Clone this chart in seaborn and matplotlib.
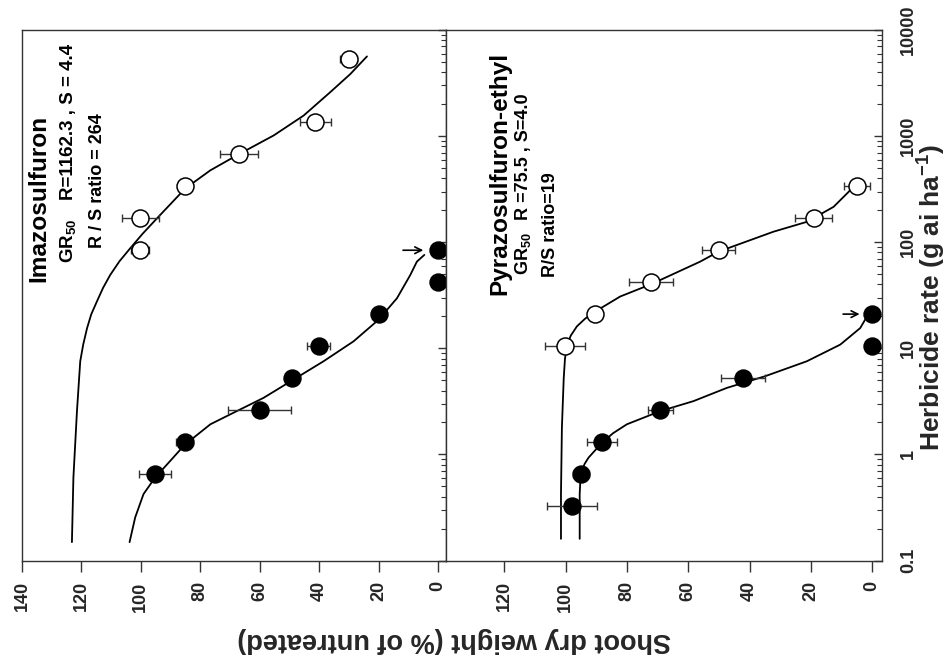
import numpy as np
import pandas as pd
import matplotlib
matplotlib.use("Agg")
import matplotlib.pyplot as plt
from matplotlib.ticker import FixedLocator, FixedFormatter, LogLocator, NullFormatter
import seaborn as sns

# ---------------- data ----------------
rate_ticks = [0.1, 1, 10, 100, 1000, 10000]
rate_labels = ["0.1", "1", "10", "100", "1000", "10000"]
left_weight_ticks = [0, 20, 40, 60, 80, 100, 120, 140]
right_weight_ticks = [0, 20, 40, 60, 80, 100, 120]

# Imazosulfuron - susceptible (filled)
imaz_S_rate = [0.656, 1.3125, 2.625, 5.25, 10.5, 21, 42, 84]
imaz_S_resp = [95.2, 85.3, 60.0, 49.1, 40.2, 20.0, 0.0, 0.0]
imaz_S_err = [5.3, 3.0, 10.7, 0, 4.0, 0, 0, 0]
# Imazosulfuron - resistant (open)
imaz_R_rate = [84, 168, 336, 672, 1344, 5376]
imaz_R_resp = [100.2, 100.2, 85.1, 67.1, 41.3, 30.1]
imaz_R_err = [3.0, 6.3, 0, 6.4, 5.2, 2.8]

# Pyrazosulfuron-ethyl - susceptible (filled)
pyr_S_rate = [0.328, 0.656, 1.3125, 2.625, 5.25, 10.5, 21]
pyr_S_resp = [97.9, 95.0, 88.1, 69.1, 42.2, 0.0, 0.0]
pyr_S_err = [8.0, 2.7, 5.0, 4.1, 7.1, 0, 0]
# Pyrazosulfuron-ethyl - resistant (open)
pyr_R_rate = [10.5, 21, 42, 84, 168, 336]
pyr_R_resp = [100.1, 90.3, 72.1, 50.1, 19.1, 5.0]
pyr_R_err = [6.5, 0, 7.1, 5.4, 6.1, 4.3]

# fitted curves, points
imaz_R_curve_rate = [0.149, 0.605, 2.56, 7.55, 10.84, 15.5, 20.9, 27.6, 37.2, 49.2, 66.1,
                     87.5, 120.2, 167.5, 320, 476, 673, 1014, 1563, 2588, 3846, 5636]
imaz_R_curve_resp = [123.2, 122.7, 121.5, 120.4, 119.4, 118.1, 116.7, 114.8, 112.7, 110.3,
                     107.2, 103.6, 99.4, 94.6, 85.1, 76.6, 67.1, 55.3, 45.2, 36.3, 29.5, 23.9]
imaz_S_curve_rate = [0.149, 0.255, 0.423, 0.605, 0.869, 1.227, 1.923, 2.559, 3.412, 4.977,
                     7.551, 11.64, 18.58, 29.65, 49.2, 65.6, 75.9]
imaz_S_curve_resp = [103.8, 101.9, 99.1, 95.2, 90.1, 85.3, 76.6, 67.7, 58.7, 49.1,
                     38.5, 28.4, 20.0, 13.8, 9.3, 7.1, 4.6]
pyr_R_curve_rate = [0.160, 0.423, 1.786, 5.26, 7.94, 10.84, 13.18, 16.11, 19.05, 22.23,
                    30.76, 40.18, 65.6, 81.5, 125.6, 155.6, 215.3, 297.9, 356.5]
pyr_R_curve_resp = [101.5, 101.5, 101.2, 100.6, 100.2, 99.5, 98.3, 96.3, 93.6, 90.3,
                    82.2, 72.1, 56.1, 50.1, 32.2, 21.3, 12.6, 7.7, 5.5]
pyr_S_curve_rate = [0.160, 0.423, 0.55, 0.700, 0.813, 0.933, 1.291, 1.585, 1.923, 2.559,
                    3.177, 4.236, 5.458, 7.551, 10.84, 15.52, 19.95]
pyr_S_curve_resp = [95.4, 95.4, 95.2, 94.7, 93.8, 92.5, 88.1, 84.5, 80.0, 69.1,
                    58.3, 47.4, 34.9, 21.3, 10.4, 3.9, 1.7]

# ---------------- style ----------------
sns.set_theme(style="white")
plt.rcParams["font.family"] = ["Liberation Sans", "DejaVu Sans"]
plt.rcParams["font.weight"] = "bold"
plt.rcParams["mathtext.fontset"] = "custom"
plt.rcParams["mathtext.rm"] = "Liberation Sans:bold"
plt.rcParams["mathtext.it"] = "Liberation Sans:bold"
plt.rcParams["mathtext.bf"] = "Liberation Sans:bold"
plt.rcParams["mathtext.default"] = "rm"

W, H = 949, 666
fig = plt.figure(figsize=(W / 100, H / 100), dpi=100)
fig.patch.set_facecolor("white")


def fx(px):
    return px / W


def fy(py):
    return 1 - py / H


top, bot = 30, 560.5
axL = fig.add_axes([fx(22), fy(bot), (446 - 22) / W, (bot - top) / H])
axR = fig.add_axes([fx(446), fy(bot), (882 - 446) / W, (bot - top) / H])

spine_col = "#333333"


def style_axis(ax, xlim, xticks, show_rate_labels):
    ax.set_yscale("log")
    ax.set_ylim(0.1, 10000)
    ax.set_xlim(*xlim)
    ax.set_facecolor("white")
    for s in ax.spines.values():
        s.set_visible(True)
        s.set_color(spine_col)
        s.set_linewidth(1.0)
    ax.xaxis.set_major_locator(FixedLocator(xticks))
    ax.xaxis.set_major_formatter(FixedFormatter([str(t) for t in xticks]))
    ax.yaxis.set_major_locator(FixedLocator(rate_ticks))
    ax.yaxis.set_major_formatter(FixedFormatter(rate_labels))
    ax.yaxis.set_minor_locator(LogLocator(base=10, subs=np.arange(2, 10), numticks=100))
    ax.yaxis.set_minor_formatter(NullFormatter())
    ax.tick_params(axis="x", which="major", direction="out", length=8, width=1,
                   color=spine_col, pad=7, labelsize=13, labelrotation=90,
                   bottom=True, top=False)
    ax.tick_params(axis="y", which="major", direction="in", length=6, width=1,
                   color=spine_col, left=False, right=True, labelleft=False,
                   labelright=show_rate_labels, pad=13, labelsize=13)
    ax.tick_params(axis="y", which="minor", direction="in", length=3.5, width=0.8,
                   color=spine_col, left=False, right=True)
    for lbl in ax.get_yticklabels():
        lbl.set_rotation(90)
        lbl.set_va("center")
        lbl.set_fontweight("bold")
    for lbl in ax.get_xticklabels():
        lbl.set_fontweight("bold")
    ax.set_xlabel("")
    ax.set_ylabel("")


def draw_panel(ax, S_rate, S_resp, S_err, R_rate, R_resp, R_err,
               Sc_rate, Sc_resp, Rc_rate, Rc_resp):
    dfc1 = pd.DataFrame({"resp": Rc_resp, "rate": Rc_rate})
    dfc2 = pd.DataFrame({"resp": Sc_resp, "rate": Sc_rate})
    sns.lineplot(data=dfc1, x="resp", y="rate", sort=False, estimator=None,
                 color="black", lw=1.3, ax=ax, zorder=2)
    sns.lineplot(data=dfc2, x="resp", y="rate", sort=False, estimator=None,
                 color="black", lw=1.3, ax=ax, zorder=2)
    for r, v, e in ((S_rate, S_resp, S_err), (R_rate, R_resp, R_err)):
        r = np.array(r); v = np.array(v); e = np.array(e)
        m = e > 0
        ax.errorbar(v[m], r[m], xerr=e[m], fmt="none", ecolor=spine_col,
                    elinewidth=1, capsize=3, capthick=1, zorder=3)
    sns.scatterplot(x=R_resp, y=R_rate, ax=ax, color="white", edgecolor="black",
                    linewidth=1.1, s=150, zorder=4, legend=False)
    sns.scatterplot(x=S_resp, y=S_rate, ax=ax, color="black", edgecolor="black",
                    linewidth=1, s=150, zorder=4, legend=False)


draw_panel(axL, imaz_S_rate, imaz_S_resp, imaz_S_err, imaz_R_rate, imaz_R_resp, imaz_R_err,
           imaz_S_curve_rate, imaz_S_curve_resp, imaz_R_curve_rate, imaz_R_curve_resp)
draw_panel(axR, pyr_S_rate, pyr_S_resp, pyr_S_err, pyr_R_rate, pyr_R_resp, pyr_R_err,
           pyr_S_curve_rate, pyr_S_curve_resp, pyr_R_curve_rate, pyr_R_curve_resp)

style_axis(axL, (140, -2.7), left_weight_ticks, False)
style_axis(axR, (139, -3.2), right_weight_ticks, True)

# arrows marking the highest susceptible rates
axL.annotate("", xy=(4.0, 84), xytext=(12.7, 84),
             arrowprops=dict(arrowstyle="->", lw=1.2, color="black"), zorder=5)
axR.annotate("", xy=(3.2, 21), xytext=(10.4, 21),
             arrowprops=dict(arrowstyle="->", lw=1.2, color="black"), zorder=5)

# panel annotations (rotated like the rest of the figure)
def rtext(px, py, s, size):
    fig.text(fx(px), fy(py), s, rotation=90, rotation_mode="anchor",
             ha="left", va="baseline", fontsize=size, fontweight="bold", color="black")


rtext(45, 282, "Imazosulfuron", 17.6)
rtext(73.3, 263, "GR$_{50}$", 13.5)
rtext(73.3, 200, "R=1162.3 , S = 4.4", 13.5)
rtext(101.7, 248, "R / S ratio = 264", 13)

rtext(506.7, 295, "Pyrazosulfuron-ethyl", 17.6)
rtext(528.3, 275, "GR$_{50}$", 13)
rtext(528.3, 220, "R =75.5 , S=4.0", 13)
rtext(555, 277, "R/S ratio=19", 13)

# axis titles
fig.text(fx(454), fy(640), "Shoot dry weight (% of untreated)", rotation=180,
         ha="center", va="center", fontsize=19.5, fontweight="bold")
fig.text(fx(932), fy(297), "Herbicide rate (g ai ha$^{-1}$)", rotation=90,
         ha="center", va="center", fontsize=19, fontweight="bold")

fig.savefig("out.png", dpi=100, facecolor="white")
